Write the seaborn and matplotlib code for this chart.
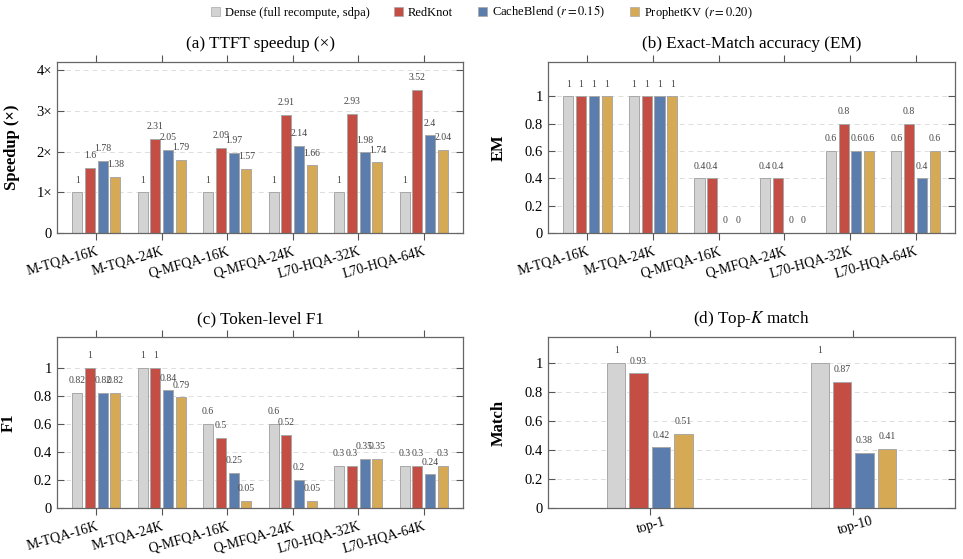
import matplotlib
matplotlib.use("Agg")
import matplotlib.pyplot as plt
from matplotlib.patches import Patch
import pandas as pd
import seaborn as sns

# data
tasks = ["M-TQA-16K", "M-TQA-24K", "Q-MFQA-16K", "Q-MFQA-24K", "L70-HQA-32K", "L70-HQA-64K"]
methods = ["Dense (full recompute, sdpa)", "RedKnot", "CacheBlend ($r = 0.15$)", "ProphetKV ($r = 0.20$)"]
colors = ["#D3D3D3", "#C44E44", "#5A7DAE", "#D6AA55"]

speedup_dense = [1, 1, 1, 1, 1, 1]
speedup_redknot = [1.6, 2.31, 2.09, 2.91, 2.93, 3.52]
speedup_cacheblend = [1.78, 2.05, 1.97, 2.14, 1.98, 2.4]
speedup_prophet = [1.38, 1.79, 1.57, 1.66, 1.74, 2.04]

em_dense = [1, 1, 0.4, 0.4, 0.6, 0.6]
em_redknot = [1, 1, 0.4, 0.4, 0.8, 0.8]
em_cacheblend = [1, 1, 0, 0, 0.6, 0.4]
em_prophet = [1, 1, 0, 0, 0.6, 0.6]

f1_dense = [0.82, 1, 0.6, 0.6, 0.3, 0.3]
f1_redknot = [1, 1, 0.5, 0.52, 0.3, 0.3]
f1_cacheblend = [0.82, 0.84, 0.25, 0.2, 0.35, 0.24]
f1_prophet = [0.82, 0.79, 0.05, 0.05, 0.35, 0.3]

topk_labels = ["top-1", "top-10"]
topk_dense = [1, 1]
topk_redknot = [0.93, 0.87]
topk_cacheblend = [0.42, 0.38]
topk_prophet = [0.51, 0.41]

plt.rcParams["font.family"] = "serif"
plt.rcParams["font.serif"] = ["Liberation Serif", "DejaVu Serif"]
plt.rcParams["mathtext.fontset"] = "stix"


def long_df(cats, series):
    rows = []
    for m, vals in zip(methods, series):
        for c, v in zip(cats, vals):
            rows.append({"cat": c, "method": m, "value": v})
    return pd.DataFrame(rows)


def panel(ax, cats, series, title, ylabel, ylim, yticks, yticklabels, xlim,
          width, gap, ha, ylab_x):
    df = long_df(cats, series)
    sns.barplot(data=df, x="cat", y="value", hue="method", palette=colors,
                saturation=1, width=width, gap=gap, edgecolor="#A8A8A8",
                linewidth=0.7, legend=False, ax=ax)
    for cont in ax.containers:
        ax.bar_label(cont, fmt="{:g}", padding=5.5, fontsize=7, color="#444444")
    ax.set_xlim(*xlim)
    ax.set_ylim(*ylim)
    ax.set_yticks(yticks)
    ax.set_yticklabels(yticklabels, fontsize=10.5)
    ax.set_xticks(range(len(cats)))
    ax.set_xticklabels(cats, fontsize=10, rotation=16, ha=ha, va="top",
                       rotation_mode="anchor")
    ax.set_xlabel("")
    ax.set_ylabel(ylabel, fontsize=12, fontweight="bold")
    ax.yaxis.set_label_coords(ylab_x, 0.5)
    ax.set_title(title, fontsize=12.3, pad=10)
    ax.grid(axis="y", linestyle=(0, (5, 4)), color="#DDDDDD", linewidth=0.7)
    ax.set_axisbelow(True)
    ax.tick_params(axis="x", top=True, direction="out", length=5, color="#555555")
    ax.tick_params(axis="y", right=True, direction="in", length=5, color="#555555")
    for s in ax.spines.values():
        s.set_color("#666666")
        s.set_linewidth(0.9)


fig = plt.figure(figsize=(9.63, 5.59), dpi=100)
ax_a = fig.add_axes([0.0592, 0.5832, 0.4216, 0.3059])
ax_b = fig.add_axes([0.5691, 0.5832, 0.4226, 0.3059])
ax_c = fig.add_axes([0.0592, 0.0912, 0.4216, 0.3059])
ax_d = fig.add_axes([0.5691, 0.0912, 0.4226, 0.3059])

frac_ticks = [0, 0.2, 0.4, 0.6, 0.8, 1]
frac_labels = ["0", "0.2", "0.4", "0.6", "0.8", "1"]

panel(ax_a, tasks, [speedup_dense, speedup_redknot, speedup_cacheblend, speedup_prophet],
      "(a) TTFT speedup (×)", "Speedup (×)", (0, 4.2), [0, 1, 2, 3, 4],
      ["0", "1×", "2×", "3×", "4×"], (-0.6, 5.6), 0.78, 0.21, "right", -0.09)
panel(ax_b, tasks, [em_dense, em_redknot, em_cacheblend, em_prophet],
      "(b) Exact-Match accuracy (EM)", "EM", (0, 1.25), frac_ticks, frac_labels,
      (-0.6, 5.6), 0.78, 0.21, "right", -0.101)
panel(ax_c, tasks, [f1_dense, f1_redknot, f1_cacheblend, f1_prophet],
      "(c) Token-level F1", "F1", (0, 1.22), frac_ticks, frac_labels,
      (-0.6, 5.6), 0.78, 0.21, "right", -0.0985)
panel(ax_d, topk_labels, [topk_dense, topk_redknot, topk_cacheblend, topk_prophet],
      "(d) Top-$K$ match", "Match", (0, 1.18), frac_ticks, frac_labels,
      (-0.5, 1.5), 0.44, 0.18, "center", -0.101)

handles = [Patch(facecolor=c, edgecolor="#A8A8A8", linewidth=0.5) for c in colors]
fig.legend(handles, methods, loc="center", bbox_to_anchor=(0.5, 0.978), ncol=4,
           frameon=False, fontsize=9, handlelength=0.7, handleheight=0.7,
           handletextpad=0.4, columnspacing=2.0)

fig.savefig("out.png", dpi=100)
